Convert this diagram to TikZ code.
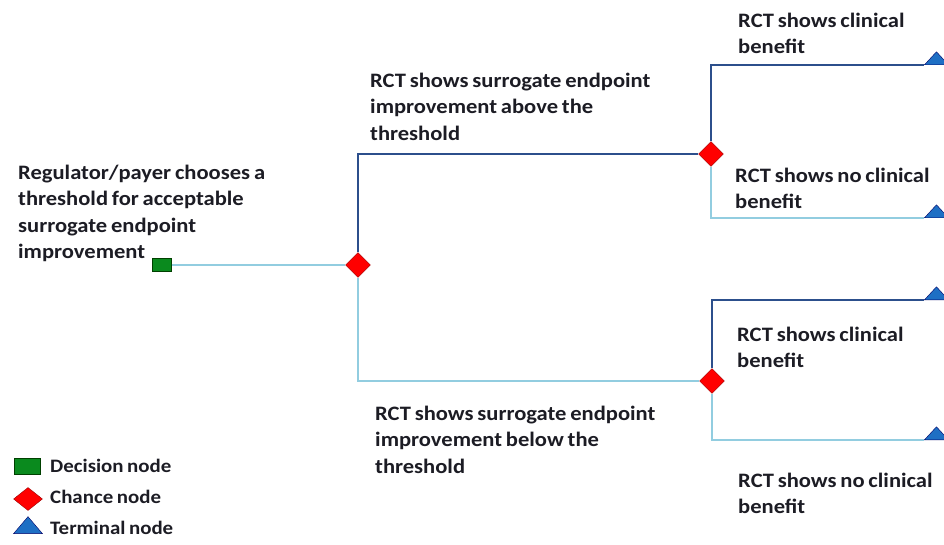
\documentclass[tikz,border=0pt]{standalone}
\usepackage{fontspec}
\setmainfont{Carlito}[FakeStretch=1.1, WordSpace=0.75]
\usetikzlibrary{shapes.geometric,positioning}

\definecolor{branchdark}{HTML}{2C4F8C}
\definecolor{branchlight}{HTML}{92CDE0}
\definecolor{decisionfill}{HTML}{0A8A1E}
\definecolor{terminalfill}{HTML}{1E6FC4}
\definecolor{labeltext}{HTML}{1C1C24}

\begin{document}
\begin{tikzpicture}[
      x=1pt, y=-1pt,
      decision/.style={
          rectangle, draw=green!25!black, fill=decisionfill,
          minimum width=19pt, minimum height=13pt, inner sep=0pt
        },
      chance/.style={
          diamond, draw=red!60!black, fill=red,
          minimum width=25pt, minimum height=25pt, inner sep=0pt
        },
      terminal/.style={
          isosceles triangle, isosceles triangle stretches,
          shape border rotate=90, draw=blue!40!black, fill=terminalfill,
          minimum width=24pt, minimum height=13pt, inner sep=0pt
        },
      lbl/.style={
          anchor=north west, align=left, inner sep=0pt,
          text=labeltext, font=\fontsize{20.5}{26.3}\selectfont\bfseries
        },
      legend/.style={
          anchor=west, inner sep=0pt,
          text=labeltext, font=\fontsize{19}{22}\selectfont\bfseries
        },
      dark/.style={draw=branchdark, line width=2.6pt},
      light/.style={draw=branchlight, line width=2pt},
    ]
    \useasboundingbox (0,0) rectangle (944,545);

    % tree nodes
    \node[decision] (dec) at (162,265) {};
    \node[chance] (chA) at (358,265) {};
    \node[chance] (chB) at (711,154) {};
    \node[chance] (chC) at (712,381) {};
    \node[terminal, anchor=left corner] (tA) at (924,65) {};
    \node[terminal, anchor=left corner] (tB) at (924,218) {};
    \node[terminal, anchor=left corner] (tC) at (924,300) {};
    \node[terminal, anchor=left corner] (tD) at (924,440) {};

    % branches
    \draw[light] (dec.east) -- (chA.west);
    \draw[dark] (chA.north) |- (chB.west);
    \draw[light] (chA.south) |- (chC.west);
    \draw[dark] (chB.north) |- (tA.left corner);
    \draw[light] (chB.south) |- (tB.left corner);
    \draw[dark] (chC.north) |- (tC.left corner);
    \draw[light] (chC.south) |- (tD.left corner);

    % labels
    \node[lbl] (decText) at (18,165) {Regulator/payer chooses a\\threshold for acceptable\\surrogate endpoint\\improvement};
    \node[lbl] (aboveText) at (370,73) {RCT shows surrogate endpoint\\improvement above the\\threshold};
    \node[lbl] (belowText) at (375,406) {RCT shows surrogate endpoint\\improvement below the\\threshold};
    \node[lbl] (benA) at (738,13) {RCT shows clinical\\benefit};
    \node[lbl] (noBenA) at (735,168) {RCT shows no clinical\\benefit};
    \node[lbl] (benB) at (737,327) {RCT shows clinical\\benefit};
    \node[lbl] (noBenB) at (738,473) {RCT shows no clinical\\benefit};

    % legend
    \node[decision, minimum width=26pt, minimum height=16pt] (keyDec) at (27,466) {};
    \node[chance, minimum width=29pt, minimum height=23pt] (keyCh) at (28,499) {};
    \node[terminal, minimum width=29pt, minimum height=17pt] (keyTerm) at (28,527) {};
    \node[legend] (keyDecText) at (50,466) {Decision node};
    \node[legend] (keyChText) at (50,497) {Chance node};
    \node[legend] (keyTermText) at (50,528) {Terminal node};
  \end{tikzpicture}
\end{document}
